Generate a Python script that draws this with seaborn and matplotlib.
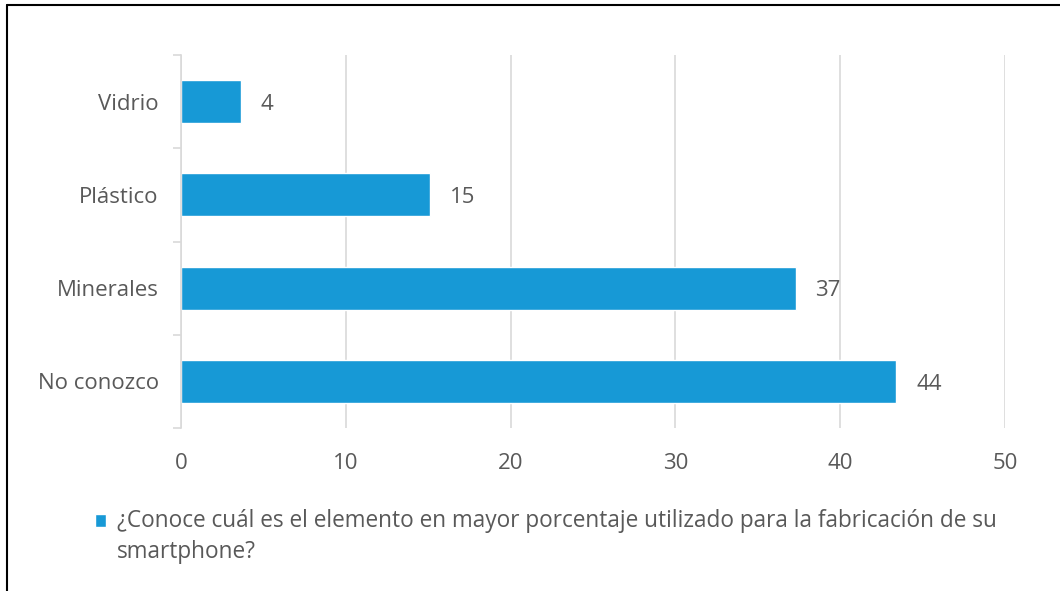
import matplotlib
matplotlib.use("Agg")
import matplotlib.pyplot as plt
from matplotlib.lines import Line2D
import pandas as pd
import seaborn as sns

# Data
categories = ["Vidrio", "Plástico", "Minerales", "No conozco"]
values = [3.64, 15.1, 37.3, 43.4]
value_labels = ["4", "15", "37", "44"]
series_name = ("¿Conoce cuál es el elemento en mayor porcentaje utilizado para la fabricación de su\n"
               "smartphone?")
x_ticks = [0, 10, 20, 30, 40, 50]

df = pd.DataFrame({"categoria": categories, "valor": values, "serie": series_name})

sns.set_style("white")
plt.rcParams["font.family"] = ["Open Sans", "DejaVu Sans"]

bar_color = "#1799D6"
text_color = "#595959"
grid_color = "#D9D9D9"
fs = 16

fig = plt.figure(figsize=(10.6, 5.91), dpi=100)
ax = fig.add_axes([181 / 1060, 1 - 428 / 591, (1005 - 181) / 1060, (428 - 55) / 591])

sns.barplot(data=df, y="categoria", x="valor", hue="serie", palette=[bar_color],
            orient="h", width=0.46, saturation=1, ax=ax, legend=True)

ax.set_xlim(0, 50)
ax.set_ylim(len(categories) - 0.5, -0.5)
ax.set_xticks(x_ticks)
ax.set_xticklabels([str(t) for t in x_ticks])
ax.set_xlabel("")
ax.set_ylabel("")

ax.grid(axis="x", color=grid_color, linewidth=1.2)
ax.set_axisbelow(True)
for s in ["top", "right", "bottom"]:
    ax.spines[s].set_visible(False)
ax.spines["left"].set_color(grid_color)
ax.spines["left"].set_linewidth(1.2)

# category boundary ticks on the y axis
ax.set_yticks([i - 0.5 for i in range(len(categories) + 1)], minor=True)
ax.tick_params(axis="y", which="minor", length=6, color=grid_color, width=1.2, left=True)
ax.tick_params(axis="y", which="major", length=0, labelsize=fs, labelcolor=text_color, pad=16)
ax.tick_params(axis="x", length=0, labelsize=fs, labelcolor=text_color, pad=18)

for i, (v, lab) in enumerate(zip(values, value_labels)):
    ax.text(v + 1.2, i + 0.03, lab, va="center", ha="left", fontsize=fs, color=text_color)

leg = ax.legend(loc="upper left", bbox_to_anchor=(86 / 1060, 1 - 500 / 591),
                bbox_transform=fig.transFigure, frameon=False, fontsize=16.3,
                handlelength=0.5, handleheight=0.5, handletextpad=0.45,
                labelcolor=text_color, borderaxespad=0)
for t in leg.get_texts():
    t.set_linespacing(1.38)
# put the marker next to the first line of the wrapped label
for h in leg.legend_handles:
    h.set_y(h.get_y() + 12)

# top and left frame lines of the picture
fig.add_artist(Line2D([7 / 1060, 1], [1 - 5 / 591, 1 - 5 / 591], color="black", linewidth=1.5))
fig.add_artist(Line2D([7 / 1060, 7 / 1060], [0, 1 - 5 / 591], color="black", linewidth=1.5))

fig.savefig("out.png", dpi=100)
